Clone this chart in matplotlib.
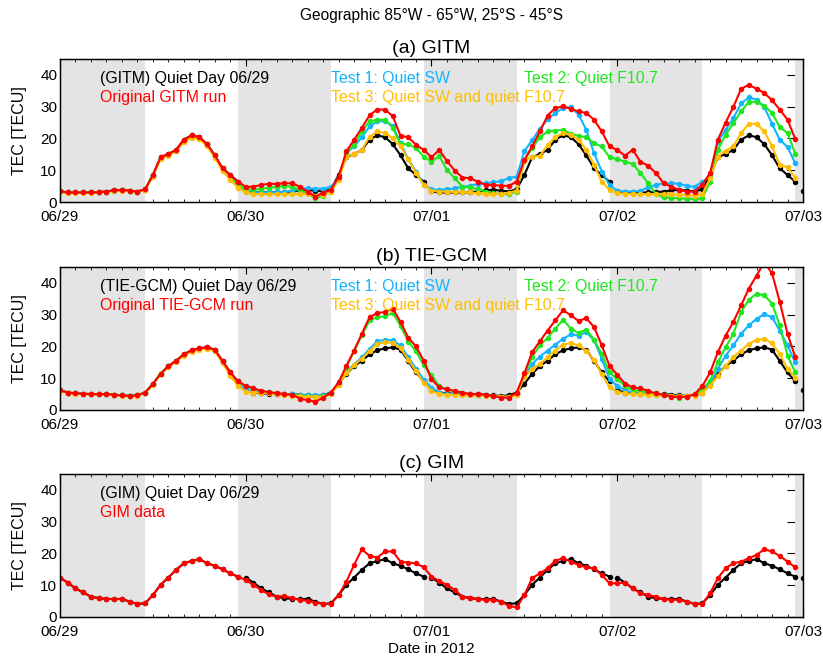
import numpy as np
import matplotlib
matplotlib.use("Agg")
import matplotlib.pyplot as plt
from matplotlib.ticker import MultipleLocator

plt.rcParams['font.family'] = ['Liberation Sans', 'DejaVu Sans']

# hourly samples, 06/29 00UT .. 07/02 23UT
hours = np.arange(96)
day_ticks = [0, 24, 48, 72, 96]
day_labels = ['06/29', '06/30', '07/01', '07/02', '07/03']
# night time (gray) intervals in hours
night_start = [-1, 23, 47, 71, 95]
night_end = [11, 35, 59, 83, 107]

# ---- (a) GITM ----
quiet_gitm = [3.4, 3.0, 3.0, 3.0, 3.0, 3.1, 3.3, 3.7, 3.8, 3.6, 3.3, 4.0,
              8.5, 14.1, 15.1, 16.4, 19.6, 21.0, 20.4, 18.2, 14.7, 10.6, 8.5, 6.4]
orig_gitm = [3.4, 3.0, 3.0, 3.0, 3.0, 3.1, 3.3, 3.7, 3.8, 3.6, 3.3, 4.0,
             8.5, 14.1, 15.1, 16.4, 19.6, 21.0, 20.4, 18.2, 14.7, 10.6, 8.5, 6.4,
             4.8, 4.8, 5.4, 5.7, 5.7, 5.9, 5.9, 4.8, 3.3, 1.7, 2.9, 3.8,
             8.0, 15.9, 19.6, 23.3, 27.3, 29.1, 29.1, 27.0, 20.8, 20.4, 18.0, 16.4,
             14.1, 16.4, 12.9, 9.9, 7.7, 7.5, 6.4, 5.4, 5.4, 5.1, 5.1, 6.4,
             13.3, 17.5, 22.2, 27.2, 29.6, 30.1, 29.3, 28.5, 28.0, 25.9, 22.2, 17.5,
             16.4, 14.6, 16.4, 12.7, 11.4, 9.1, 5.9, 4.8, 3.8, 3.3, 3.3, 5.5,
             9.1, 19.6, 25.0, 29.9, 35.6, 36.9, 35.6, 34.3, 32.0, 29.1, 25.9, 19.8]
test1_gitm = [3.3, 3.0, 3.0, 3.0, 3.0, 3.1, 3.3, 3.6, 3.7, 3.5, 3.3, 3.9,
              8.3, 13.9, 14.9, 16.2, 19.3, 20.6, 20.1, 18.0, 14.5, 10.4, 8.2, 5.2,
              3.2, 3.0, 3.0, 3.0, 3.0, 3.2, 3.5, 4.2, 4.3, 4.2, 4.2, 4.8,
              7.5, 15.4, 17.5, 20.4, 23.8, 25.4, 25.4, 24.0, 18.5, 13.5, 9.5, 5.5,
              4.0, 3.8, 4.0, 4.3, 4.8, 5.1, 5.7, 5.9, 6.2, 6.6, 7.5, 8.0,
              16.0, 19.5, 23.0, 26.0, 28.0, 29.6, 29.8, 27.5, 22.7, 15.4, 9.6, 5.4,
              3.5, 3.3, 3.3, 3.5, 4.6, 5.4, 5.9, 5.9, 5.7, 5.1, 4.8, 6.4,
              8.0, 19.0, 22.7, 26.4, 31.0, 32.9, 32.2, 29.9, 24.6, 19.6, 17.3, 12.2]
test2_gitm = [3.3, 3.0, 3.0, 3.0, 3.0, 3.1, 3.3, 3.6, 3.7, 3.5, 3.3, 3.9,
              8.4, 14.0, 15.0, 16.3, 19.4, 20.8, 20.2, 18.1, 14.6, 10.5, 8.3, 5.5,
              4.0, 3.8, 4.2, 4.5, 4.8, 5.1, 4.8, 3.8, 2.7, 1.2, 2.0, 3.3,
              7.5, 15.4, 18.0, 22.2, 25.4, 25.9, 25.9, 23.3, 18.2, 18.2, 16.9, 14.3,
              12.7, 14.5, 10.1, 7.5, 4.8, 4.6, 4.0, 3.3, 2.7, 2.5, 2.5, 3.3,
              13.0, 17.0, 20.4, 22.2, 22.5, 22.7, 21.5, 20.8, 20.4, 18.5, 17.5, 14.1,
              13.5, 12.7, 12.0, 9.1, 5.9, 2.5, 1.5, 1.3, 1.2, 1.0, 1.0, 1.2,
              6.4, 16.4, 21.2, 24.8, 28.5, 31.5, 31.5, 30.3, 28.0, 23.6, 21.7, 15.2]
test3_gitm = [3.2, 2.9, 2.9, 2.9, 2.9, 3.0, 3.2, 3.5, 3.6, 3.4, 3.2, 3.8,
              8.0, 13.6, 14.6, 15.9, 18.9, 20.2, 19.8, 17.6, 14.0, 9.8, 7.0, 4.5,
              3.0, 2.5, 2.5, 2.5, 2.5, 2.5, 2.6, 2.5, 2.6, 2.0, 2.3, 3.0,
              7.0, 14.3, 15.0, 16.4, 20.6, 22.2, 21.7, 20.1, 17.5, 13.5, 9.0, 5.4,
              3.6, 3.3, 3.2, 3.2, 3.2, 3.0, 2.8, 2.6, 2.5, 2.5, 2.9, 3.6,
              13.0, 14.3, 14.5, 18.0, 20.4, 21.7, 21.2, 19.6, 16.4, 11.7, 6.4, 3.8,
              2.8, 2.6, 2.5, 2.5, 2.5, 2.5, 2.5, 2.4, 2.3, 2.2, 2.0, 2.5,
              7.5, 14.3, 16.2, 17.5, 21.7, 24.6, 24.6, 22.2, 17.5, 11.7, 10.9, 7.7]

# ---- (b) TIE-GCM ----
quiet_tiegcm = [6.2, 5.5, 5.2, 5.1, 5.0, 5.0, 5.0, 4.8, 4.6, 4.4, 4.6, 5.5,
                8.2, 11.4, 13.8, 15.5, 17.5, 18.8, 19.4, 19.7, 19.0, 15.4, 11.8, 9.0]
orig_tiegcm = [6.2, 5.5, 5.2, 5.1, 5.0, 5.0, 5.0, 4.8, 4.6, 4.4, 4.6, 5.5,
               8.2, 11.4, 13.8, 15.5, 17.5, 18.8, 19.4, 19.7, 19.0, 15.4, 11.8, 9.0,
               7.6, 6.8, 6.0, 5.6, 5.3, 5.0, 4.8, 3.6, 3.1, 2.6, 3.9, 5.5,
               8.7, 13.9, 18.7, 24.0, 29.2, 30.5, 30.8, 31.9, 27.7, 22.7, 20.0, 15.5,
               9.7, 7.1, 6.5, 6.0, 5.5, 5.0, 5.0, 4.8, 4.4, 3.9, 3.9, 5.5,
               11.5, 18.2, 21.6, 25.0, 28.2, 31.4, 29.8, 28.0, 28.9, 26.1, 20.3, 13.9,
               11.1, 8.3, 7.1, 6.8, 6.0, 5.2, 4.8, 4.2, 4.1, 4.2, 5.0, 7.6,
               11.8, 18.2, 23.4, 27.7, 32.9, 38.2, 42.3, 46.5, 43.0, 34.0, 24.0, 16.6]
test1_tiegcm = [6.2, 5.5, 5.2, 5.1, 5.0, 5.0, 5.0, 4.8, 4.6, 4.4, 4.6, 5.5,
                8.2, 11.4, 13.7, 15.4, 17.3, 18.6, 19.2, 19.5, 18.7, 15.0, 11.2, 8.2,
                6.5, 5.8, 5.5, 5.2, 5.0, 5.0, 4.9, 4.8, 4.7, 4.6, 4.6, 5.3,
                8.5, 12.0, 14.3, 16.6, 19.2, 21.6, 22.1, 21.9, 20.3, 16.6, 13.0, 9.5,
                7.0, 5.5, 5.0, 5.0, 4.8, 4.8, 4.7, 4.6, 4.5, 4.2, 4.2, 5.0,
                10.5, 14.5, 16.8, 18.7, 20.6, 22.4, 23.8, 23.4, 24.5, 21.9, 16.1, 9.7,
                7.6, 6.2, 5.5, 5.2, 5.0, 4.8, 4.6, 4.5, 4.4, 4.4, 4.6, 6.0,
                8.1, 12.9, 17.1, 20.3, 24.0, 26.6, 28.7, 30.1, 29.2, 25.0, 20.3, 15.0]
test2_tiegcm = [6.2, 5.5, 5.2, 5.1, 5.0, 5.0, 5.0, 4.8, 4.6, 4.4, 4.6, 5.5,
                8.2, 11.4, 13.8, 15.5, 17.4, 18.7, 19.3, 19.6, 18.9, 15.3, 11.6, 8.8,
                7.5, 6.8, 6.0, 5.6, 5.3, 5.0, 4.8, 4.5, 4.3, 4.2, 4.3, 5.3,
                8.5, 13.5, 18.5, 23.5, 28.2, 29.2, 29.5, 30.5, 26.5, 21.5, 18.5, 14.0,
                11.0, 7.5, 6.5, 5.8, 5.3, 5.0, 4.8, 4.8, 4.4, 4.0, 4.0, 5.0,
                11.0, 16.8, 20.3, 22.7, 25.6, 28.4, 25.6, 24.2, 25.3, 22.1, 17.6, 11.8,
                9.7, 7.6, 6.2, 6.0, 5.5, 5.2, 4.8, 4.4, 3.9, 4.2, 4.8, 6.5,
                9.2, 15.0, 19.7, 24.0, 30.8, 34.7, 36.6, 36.1, 33.5, 26.6, 17.1, 11.8]
test3_tiegcm = [6.1, 5.4, 5.1, 5.0, 4.9, 4.9, 4.9, 4.7, 4.5, 4.3, 4.5, 5.4,
                8.0, 11.2, 13.5, 15.2, 17.1, 18.4, 19.0, 19.3, 18.5, 14.8, 10.8, 7.5,
                5.8, 5.5, 5.4, 5.2, 5.0, 4.8, 4.5, 4.3, 4.2, 4.2, 4.2, 5.0,
                8.0, 11.5, 14.0, 16.2, 18.5, 20.8, 21.4, 21.0, 19.5, 15.8, 12.2, 8.5,
                6.0, 5.0, 4.8, 4.8, 4.6, 4.6, 4.6, 4.5, 4.4, 4.2, 4.2, 4.6,
                10.5, 12.9, 14.5, 16.6, 18.7, 20.6, 21.0, 20.3, 18.7, 15.7, 11.3, 7.1,
                5.8, 5.2, 5.0, 4.9, 4.8, 4.7, 4.6, 4.5, 4.4, 4.4, 4.5, 5.5,
                7.6, 10.8, 13.9, 16.6, 18.7, 20.8, 22.1, 22.4, 21.0, 17.6, 12.9, 10.2]

# ---- (c) GIM ----
quiet_gim = [12.4, 10.8, 9.0, 7.7, 6.4, 5.9, 5.7, 5.6, 5.7, 4.8, 4.1, 4.3,
             6.9, 10.1, 12.4, 14.8, 16.9, 17.6, 18.2, 16.9, 16.1, 15.0, 13.7, 12.7]
gim_data = [12.4, 10.8, 9.0, 7.7, 6.4, 5.9, 5.7, 5.6, 5.7, 4.8, 4.1, 4.3,
            6.9, 10.1, 12.4, 14.8, 16.9, 17.6, 18.2, 16.9, 16.1, 15.0, 13.7, 12.7,
            11.6, 10.1, 8.5, 7.1, 6.4, 6.6, 5.9, 5.4, 5.1, 4.5, 4.1, 4.1,
            6.9, 11.1, 16.4, 21.3, 19.2, 18.7, 20.6, 20.6, 17.4, 17.1, 16.9, 15.6,
            12.7, 11.3, 10.1, 8.5, 6.4, 6.1, 5.6, 5.4, 5.4, 4.8, 3.5, 3.0,
            6.9, 12.2, 13.7, 15.3, 17.7, 18.5, 17.4, 16.4, 15.6, 15.3, 13.2, 10.6,
            10.6, 10.8, 9.0, 7.5, 6.9, 6.4, 5.6, 5.4, 5.4, 4.8, 4.1, 4.1,
            7.5, 12.2, 15.3, 16.9, 17.4, 18.5, 19.5, 21.3, 20.6, 19.2, 17.4, 15.6]

c_black = 'black'
c_red = '#ff0000'
c_blue = '#14b4ff'
c_green = '#20e620'
c_yellow = '#ffbe00'


def setup_axes(ax, title):
    for s, e in zip(night_start, night_end):
        ax.axvspan(s, e, color='#e4e4e4', lw=0, zorder=1.7)
    ax.set_xlim(0, 96)
    ax.set_ylim(0, 45)
    ax.set_xticks(day_ticks)
    ax.set_xticklabels(day_labels, fontsize=11)
    ax.xaxis.set_minor_locator(MultipleLocator(2))
    ax.set_yticks([0, 10, 20, 30, 40])
    ax.tick_params(axis='y', direction='in', length=11.5, left=True, right=True,
                   labelsize=11, pad=2)
    ax.tick_params(axis='x', which='major', direction='in', length=5, pad=6)
    ax.tick_params(axis='x', which='minor', direction='in', length=2.5)
    ax.set_ylabel('TEC [TECU]', fontsize=11.5)
    ax.yaxis.set_label_coords(-0.044, 0.5)
    ax.set_title(title, fontsize=14, pad=4)
    # top ticks drawn above the gray bands
    top = ax.twiny()
    top.set_xlim(0, 96)
    top.set_xticks(day_ticks)
    top.set_xticklabels([])
    top.xaxis.set_minor_locator(MultipleLocator(2))
    top.tick_params(axis='x', which='major', direction='in', length=5)
    top.tick_params(axis='x', which='minor', direction='in', length=2.5)
    for sp in list(ax.spines.values()) + list(top.spines.values()):
        sp.set_linewidth(0.9)


def draw_quiet(ax, quiet):
    for d in range(4):
        ax.plot(hours[d * 24:(d + 1) * 24], quiet, color=c_black, lw=1.5,
                marker='o', ms=2.9, zorder=3)
    ax.plot([96], [quiet[0]], color=c_black, marker='o', ms=2.9, ls='none', zorder=3)


def draw_run(ax, y, color, z):
    ax.plot(hours, y, color=color, lw=1.5, marker='o', ms=2.9, zorder=z)


fig = plt.figure(figsize=(8.23, 6.6), dpi=100)
ax_a = fig.add_axes([0.0729, 0.6939, 0.9028, 0.2167])
ax_b = fig.add_axes([0.0729, 0.3788, 0.9028, 0.2167])
ax_c = fig.add_axes([0.0729, 0.0652, 0.9028, 0.2167])

fs_txt = 11.4
panels = [
    (ax_a, '(a) GITM', 'GITM', quiet_gitm, orig_gitm, test1_gitm, test2_gitm, test3_gitm),
    (ax_b, '(b) TIE-GCM', 'TIE-GCM', quiet_tiegcm, orig_tiegcm, test1_tiegcm, test2_tiegcm, test3_tiegcm),
]
for ax, title, model, quiet, orig, t1, t2, t3 in panels:
    setup_axes(ax, title)
    draw_quiet(ax, quiet)
    draw_run(ax, t1, c_blue, 4)
    draw_run(ax, t2, c_green, 5)
    draw_run(ax, t3, c_yellow, 6)
    draw_run(ax, orig, c_red, 7)
    ax.text(5.2, 39, '(' + model + ') Quiet Day 06/29', color=c_black, fontsize=fs_txt, va='center', zorder=8)
    ax.text(5.2, 33, 'Original ' + model + ' run', color=c_red, fontsize=fs_txt, va='center', zorder=8)
    ax.text(35.0, 39, 'Test 1: Quiet SW', color=c_blue, fontsize=fs_txt, va='center', zorder=8)
    ax.text(35.0, 33, 'Test 3: Quiet SW and quiet F10.7', color=c_yellow, fontsize=fs_txt, va='center', zorder=8)
    ax.text(60.0, 39, 'Test 2: Quiet F10.7', color=c_green, fontsize=fs_txt, va='center', zorder=8)

setup_axes(ax_c, '(c) GIM')
draw_quiet(ax_c, quiet_gim)
draw_run(ax_c, gim_data, c_red, 7)
ax_c.text(5.2, 39, '(GIM) Quiet Day 06/29', color=c_black, fontsize=fs_txt, va='center', zorder=8)
ax_c.text(5.2, 33, 'GIM data', color=c_red, fontsize=fs_txt, va='center', zorder=8)
ax_c.set_xlabel('Date in 2012', fontsize=11)
ax_c.xaxis.set_label_coords(0.5, -0.175)

fig.text(0.5243, 0.977, 'Geographic 85°W - 65°W, 25°S - 45°S', ha='center', va='center', fontsize=11.2)

fig.savefig('out.png', dpi=100)
